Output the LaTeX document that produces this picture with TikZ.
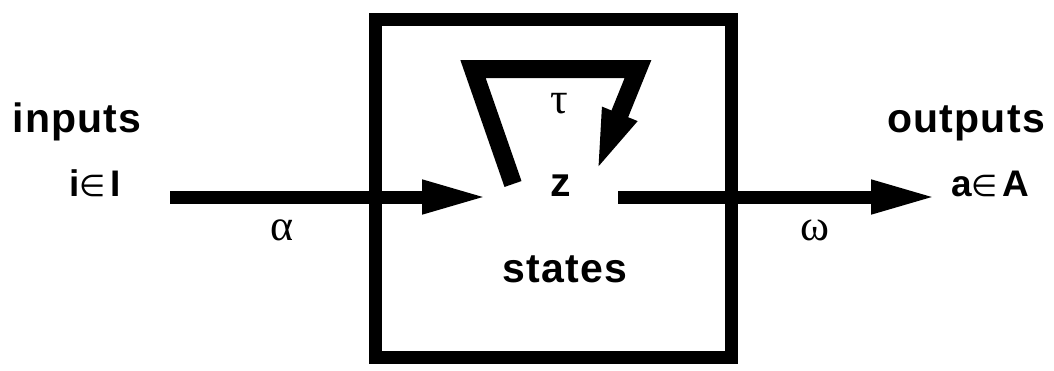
\documentclass[tikz,border=0pt]{standalone}
\usepackage{fontspec}
\setmainfont{Liberation Sans}[LetterSpace=3]
\newfontfamily\greekfont{Liberation Serif}
\newfontfamily\elemfont{DejaVu Sans}
\newcommand\elemof{{\elemfont\mdseries\fontsize{30}{30}\selectfont ∈}}
\usetikzlibrary{arrows.meta}

\tikzset{
  lbl/.style={font=\bfseries\fontsize{41}{41}\selectfont, anchor=base, inner sep=0pt},
  setlbl/.style={font=\bfseries\fontsize{37}{37}\selectfont, anchor=base, inner sep=0pt},
  grk/.style={font=\greekfont\fontsize{44}{44}\selectfont, inner sep=0pt},
  flow/.style={line width=13pt, -{Triangle[length=66pt,width=31pt]}},
}

\begin{document}
\begin{tikzpicture}[x=1pt,y=-1pt]
\useasboundingbox (0,0) rectangle (1054,370);
% system box
\node[draw, line width=13pt, minimum width=356pt, minimum height=338pt, inner sep=0pt] (sys) at (553,188) {};
\node[lbl] (states) at (565,282) {states};
\node[lbl] (z) at (561,196) {z};
\node[grk] (tau) at (559,104) {τ};
% inputs / outputs
\node[lbl] (inputs) at (77,132) {inputs};
\node[setlbl] (iset) at (95,196) {i\elemof\hspace{4pt}I};
\node[lbl] (outputs) at (966,132) {outputs};
\node[setlbl] (aset) at (990,196) {a\elemof\hspace{4pt}A};
\node[grk] (alpha) at (282,230) {α};
\node[grk] (omega) at (815,230) {ω};
% arrows
\coordinate (src) at (170,197);
\coordinate (zin) at (488,197);
\coordinate (zout) at (618,197);
\coordinate (dst) at (937,197);
\draw[flow] (src) -- (zin);
\draw[flow] (zout) -- (dst);
% feedback loop
\coordinate (fb0) at (513,184);
\coordinate (fb1) at (473,69);
\coordinate (fb2) at (638,69);
\coordinate (fb3) at (595,175);
\draw[line width=18pt, -{Triangle[length=66pt,width=32pt]}] (fb0) -- (fb1) -- (fb2) -- (fb3);
\end{tikzpicture}
\end{document}
